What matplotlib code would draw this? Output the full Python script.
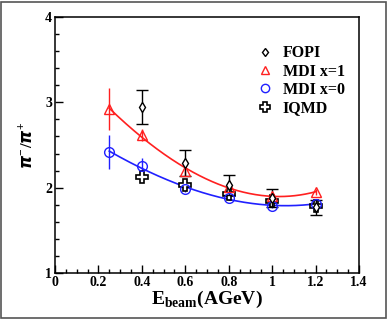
import numpy as np
import matplotlib.pyplot as plt
from matplotlib.ticker import MultipleLocator
from matplotlib.patches import Rectangle
from matplotlib.lines import Line2D

plt.rcParams['font.family'] = ['Liberation Serif', 'DejaVu Serif']
plt.rcParams['font.weight'] = 'bold'
plt.rcParams['mathtext.fontset'] = 'custom'
plt.rcParams['mathtext.rm'] = 'Liberation Serif'
plt.rcParams['mathtext.bf'] = 'Liberation Serif:bold'

# FOPI data
e_fopi = [0.4, 0.6, 0.8, 1.0, 1.2]
r_fopi = [2.95, 2.29, 2.03, 1.88, 1.77]
err_fopi = [0.20, 0.15, 0.12, 0.11, 0.09]

# MDI x=1
e_mdi = [0.25, 0.4, 0.6, 0.8, 1.0, 1.2]
r_x1 = [2.92, 2.62, 2.20, 2.01, 1.90, 1.95]
err_x1 = [0.25, 0.07, 0.06, 0.05, 0.05, 0.04]

# MDI x=0
r_x0 = [2.42, 2.25, 1.98, 1.88, 1.79, 1.81]
err_x0 = [0.20, 0.10, 0.03, 0.03, 0.03, 0.03]

# IQMD
e_iqmd = [0.4, 0.6, 0.8, 1.0, 1.2]
r_iqmd = [2.13, 2.03, 1.93, 1.84, 1.78]

red = '#ff2020'
blue = '#2020ff'

fig = plt.figure(figsize=(3.88, 3.19), dpi=100)
ax = fig.add_axes([0.1418, 0.1442, 0.7835, 0.8025])

# smooth fit curves through model points
xs = np.linspace(0.25, 1.2, 200)
c1 = np.polyfit(e_mdi, r_x1, 3)
c0 = np.polyfit(e_mdi, r_x0, 3)
ax.plot(xs, np.polyval(c1, xs), color=red, lw=1.2)
ax.plot(xs, np.polyval(c0, xs), color=blue, lw=1.2)

ax.errorbar(e_mdi, r_x1, yerr=err_x1, fmt='^', ms=7, mfc='none', mec=red,
            ecolor=red, mew=1.0, elinewidth=1.0, capsize=0)
ax.errorbar(e_mdi, r_x0, yerr=err_x0, fmt='o', ms=7, mfc='none', mec=blue,
            ecolor=blue, mew=1.0, elinewidth=1.0, capsize=0)
ax.plot(e_iqmd, r_iqmd, 'P', ms=8, mfc='white', mec='black', mew=1.2)
ax.errorbar(e_fopi, r_fopi, yerr=err_fopi, fmt='d', ms=5.5, mfc='white', mec='black',
            ecolor='black', mew=1.0, elinewidth=1.0, capsize=4, capthick=1.2)

ax.set_xlim(0, 1.4)
ax.set_ylim(1, 4)
ax.xaxis.set_minor_locator(MultipleLocator(0.05))
ax.yaxis.set_minor_locator(MultipleLocator(0.2))
ax.tick_params(which='both', direction='in', top=False, right=False, labelsize=10, pad=2)
ax.tick_params(which='major', length=6, width=1)
ax.tick_params(which='minor', length=3, width=1)
ax.set_xticks([0, 0.2, 0.4, 0.6, 0.8, 1.0, 1.2, 1.4])
ax.set_xticklabels(['0', '0.2', '0.4', '0.6', '0.8', '1', '1.2', '1.4'])
ax.set_yticks([1, 2, 3, 4])
ax.set_yticklabels(['1', '2', '3', '4'])
for s in ax.spines.values():
    s.set_linewidth(1.1)

ax.set_xlabel(r'E$_{\mathbf{beam}}$(AGeV)', fontsize=14, fontweight='bold', labelpad=0)
ax.set_ylabel(r'$\pi^{-}/\pi^{+}$', fontsize=12, labelpad=7)

handles = [
    Line2D([], [], ls='none', marker='d', ms=4.5, mfc='white', mec='black', mew=1.0),
    Line2D([], [], ls='none', marker='^', ms=6, mfc='none', mec=red, mew=1.0),
    Line2D([], [], ls='none', marker='o', ms=6, mfc='none', mec=blue, mew=1.0),
    Line2D([], [], ls='none', marker='P', ms=6.5, mfc='white', mec='black', mew=1.2),
]
labels = ['FOPI', 'MDI x=1', 'MDI x=0', 'IQMD']
ax.legend(handles, labels, loc='upper left', bbox_to_anchor=(0.65, 0.915), frameon=False,
          fontsize=11.5, handlelength=0.8, handletextpad=0.7, labelspacing=0.15,
          borderaxespad=0)

fig.patches.append(Rectangle((0.002, 0.003), 0.994, 0.992, transform=fig.transFigure,
                             fill=False, edgecolor='#555555', lw=1.2))

fig.savefig('out.png', dpi=100)
